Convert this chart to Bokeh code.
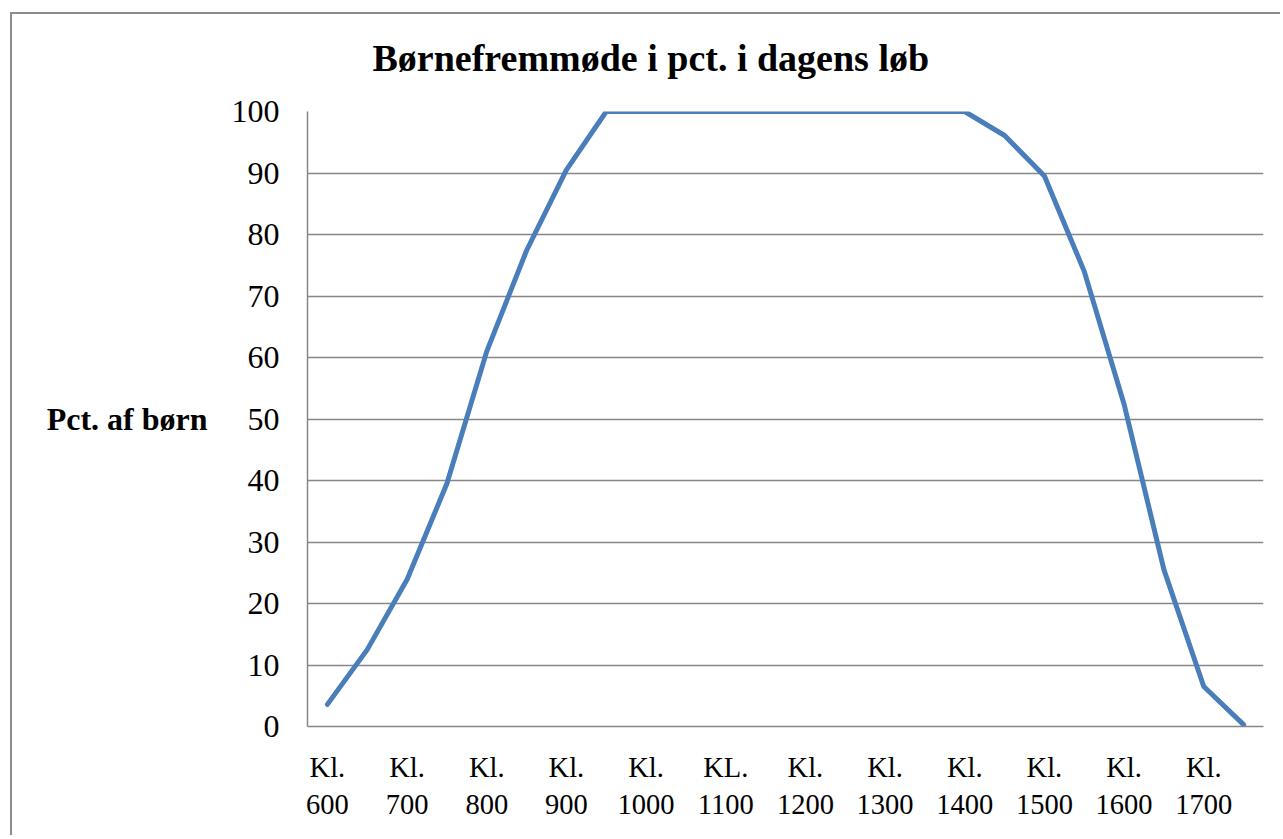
from bokeh.plotting import figure
from bokeh.models import Range1d, FixedTicker
from bokeh.embed import file_html
from bokeh.resources import INLINE

# ---- data ----
times = ["600", "630", "700", "730", "800", "830", "900", "930", "1000", "1030",
         "1100", "1130", "1200", "1230", "1300", "1330", "1400", "1430", "1500",
         "1530", "1600", "1630", "1700", "1730"]
pct_children = [3.6, 12.5, 23.9, 39.5, 61.0, 77.4, 90.5, 100, 100, 100,
                100, 100, 100, 100, 100, 100, 100, 96.1, 89.5,
                74.0, 52.4, 25.5, 6.5, 0.3]
tick_labels = ["Kl.\n600", "Kl.\n700", "Kl.\n800", "Kl.\n900", "Kl.\n1000", "KL.\n1100",
               "Kl.\n1200", "Kl.\n1300", "Kl.\n1400", "Kl.\n1500", "Kl.\n1600", "Kl.\n1700"]
y_ticks = [0, 10, 20, 30, 40, 50, 60, 70, 80, 90, 100]
title_text = "Børnefremmøde i pct. i dagens løb"
y_label_text = "Pct. af børn"

FONT = "Liberation Serif"
GRID = "#868686"
BOX = "#8c8c8c"

xs = [i + 0.5 for i in range(len(times))]
tick_pos = [i + 0.5 for i in range(0, len(times), 2)]

p = figure(width=1280, height=835,
           x_range=Range1d(0, len(times)), y_range=Range1d(0, 100),
           output_backend="svg", toolbar_location=None,
           min_border_left=307, min_border_right=17,
           min_border_top=111, min_border_bottom=109,
           title=title_text)
# outer chart box (left and top edges) drawn behind a transparent border area
p.styles = {
    "background-color": "white",
    "background-image": f"linear-gradient({BOX}, {BOX}), linear-gradient({BOX}, {BOX})",
    "background-size": "2px 100%, 100% 2px",
    "background-position": "10px 12px, 10px 12px",
    "background-repeat": "no-repeat",
}
p.outline_line_color = None
p.background_fill_color = "white"
p.border_fill_alpha = 0

# title
p.title.align = "left"
p.title.offset = 65
p.title.standoff = 66
p.title.text_font = FONT
p.title.text_font_style = "bold"
p.title.text_font_size = "38px"
p.title.text_color = "black"

p.line(xs, pct_children, line_color="#4a7ebb", line_width=5,
       line_join="round", line_cap="round")

# grid
p.xgrid.grid_line_color = None
p.ygrid.ticker = FixedTicker(ticks=y_ticks)
p.ygrid.grid_line_color = GRID
p.ygrid.grid_line_width = 1.5

# y axis
p.yaxis.ticker = FixedTicker(ticks=y_ticks)
p.yaxis.axis_line_color = GRID
p.yaxis.axis_line_width = 1.5
p.yaxis.major_tick_line_color = None
p.yaxis.minor_tick_line_color = None
p.yaxis.major_tick_out = 0
p.yaxis.major_tick_in = 0
p.yaxis.major_label_standoff = 28
p.yaxis.major_label_text_font = FONT
p.yaxis.major_label_text_font_size = "32px"
p.yaxis.major_label_text_color = "black"
p.yaxis.axis_label = y_label_text
p.yaxis.axis_label_orientation = "horizontal"
p.yaxis.axis_label_standoff = 21
p.yaxis.axis_label_text_font = FONT
p.yaxis.axis_label_text_font_style = "bold"
p.yaxis.axis_label_text_font_size = "32px"
p.yaxis.axis_label_text_color = "black"

# x axis
p.xaxis.ticker = FixedTicker(ticks=tick_pos)
p.xaxis.major_label_overrides = {t: lab for t, lab in zip(tick_pos, tick_labels)}
p.xaxis.axis_line_color = GRID
p.xaxis.axis_line_width = 1.5
p.xaxis.major_tick_line_color = None
p.xaxis.minor_tick_line_color = None
p.xaxis.major_tick_out = 0
p.xaxis.major_tick_in = 0
p.xaxis.major_label_standoff = 25
p.xaxis.major_label_text_font = FONT
p.xaxis.major_label_text_font_size = "28.5px"
p.xaxis.major_label_text_color = "black"

open("out.html", "w").write(file_html(p, INLINE))
